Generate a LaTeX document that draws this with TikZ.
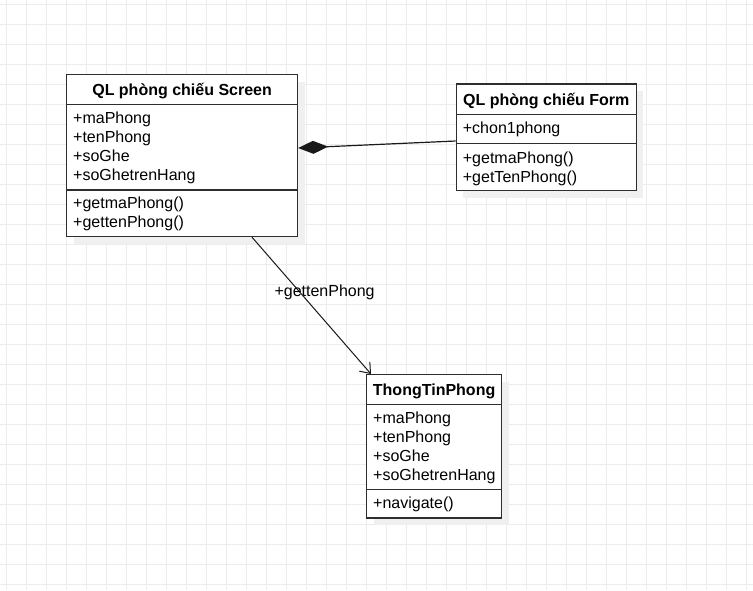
\documentclass[tikz,border=0pt]{standalone}
\usepackage{fontspec}
\setmainfont{Liberation Sans}
\usetikzlibrary{arrows.meta,positioning,calc,shadows}

\begin{document}
\begin{tikzpicture}[
  x=1pt, y=-1pt,
  font=\fontsize{16}{19}\selectfont,
  gridline/.style={draw=gray!15, line width=0.75pt},
  umlbox/.style={draw=black!82, line width=1.2pt, fill=white, inner sep=0pt, anchor=north west,
    drop shadow={shadow xshift=7pt, shadow yshift=-7pt, fill=black!6, opacity=1}},
  title/.style={font=\fontsize{16}{19}\selectfont\bfseries, inner sep=0pt, anchor=base},
  member/.style={anchor=base west, inner sep=0pt},
  sep/.style={draw=black!82, line width=1.2pt},
  comp/.style={line width=1.2pt, draw=black!90, -{Diamond[length=30pt,width=13pt]}},
  dep/.style={line width=1pt, draw=black!90, -{Straight Barb[length=9pt,width=14pt]}},
  lbl/.style={inner sep=0pt}
]
\useasboundingbox (0,0) rectangle (753,590);
\fill[white] (0,0) rectangle (753,590);

% background grid
\foreach \gx in {6.7,26.7,...,746.7}
  \draw[gridline] (\gx,0) -- (\gx,590);
\foreach \gy in {4.7,24.7,...,584.7}
  \draw[gridline] (0,\gy) -- (753,\gy);

% classes
\node[umlbox, minimum width=231pt, minimum height=162pt] (screen) at (66,74) {};
\node[umlbox, minimum width=180pt, minimum height=106.7pt] (form) at (455.7,83.3) {};
\node[umlbox, minimum width=135pt, minimum height=143.3pt] (info) at (366,374) {};

% QL phong chieu Screen
\node[title] (screenname) at ($(screen.north)+(0,21.5)$) {QL phòng chiếu Screen};
\draw[sep] ($(screen.north west)+(0,30.3)$) -- ($(screen.north east)+(0,30.3)$);
\foreach \t [count=\i from 0] in {+maPhong,+tenPhong,+soGhe,+soGhetrenHang}
  \node[member] (screen-a\i) at ($(screen.north west)+(7,49.5+19*\i)$) {\t};
\draw[sep] ($(screen.north west)+(0,116)$) -- ($(screen.north east)+(0,116)$);
\foreach \t [count=\i from 0] in {+getmaPhong(),+gettenPhong()}
  \node[member] (screen-m\i) at ($(screen.north west)+(7,134.5+19*\i)$) {\t};

% QL phong chieu Form
\node[title] (formname) at ($(form.north)+(0,22.4)$) {QL phòng chiếu Form};
\draw[sep] ($(form.north west)+(0,31)$) -- ($(form.north east)+(0,31)$);
\node[member] (form-a0) at ($(form.north west)+(7,50.5)$) {+chon1phong};
\draw[sep] ($(form.north west)+(0,60)$) -- ($(form.north east)+(0,60)$);
\foreach \t [count=\i from 0] in {+getmaPhong(),+getTenPhong()}
  \node[member] (form-m\i) at ($(form.north west)+(7,80.5+18.5*\i)$) {\t};

% ThongTinPhong
\node[title] (infoname) at ($(info.north)+(0,21.7)$) {ThongTinPhong};
\draw[sep] ($(info.north west)+(0,30.3)$) -- ($(info.north east)+(0,30.3)$);
\foreach \t [count=\i from 0] in {+maPhong,+tenPhong,+soGhe,+soGhetrenHang}
  \node[member] (info-a\i) at ($(info.north west)+(7,49.8+19*\i)$) {\t};
\draw[sep] ($(info.north west)+(0,115.3)$) -- ($(info.north east)+(0,115.3)$);
\node[member] (info-m0) at ($(info.north west)+(7,134.8)$) {+navigate()};

% relations
\draw[comp] ($(form.north west)+(0,57.7)$) -- ($(screen.north east)+(0,74)$);
\draw[dep] ($(screen.south west)+(186,0)$) -- ($(info.north west)+(5,0)$)
  node[lbl, pos=0.4, xshift=25pt] (calllbl) {+gettenPhong};
\end{tikzpicture}
\end{document}
